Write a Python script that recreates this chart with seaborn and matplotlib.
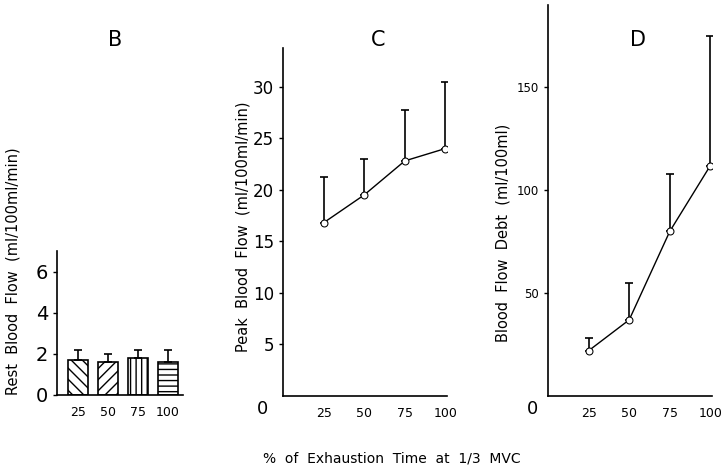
import matplotlib
matplotlib.use("Agg")
import matplotlib.pyplot as plt
import numpy as np
import pandas as pd
import seaborn as sns

# data
pct = [25, 50, 75, 100]
pct_labels = ["25", "50", "75", "100"]
rest_flow = [1.7, 1.6, 1.8, 1.6]
rest_top = [2.2, 2.0, 2.2, 2.2]
peak_flow = [16.8, 19.5, 22.8, 24.0]
peak_top = [21.2, 23.0, 27.7, 30.5]
debt = [22, 37, 80, 112]
debt_top = [28, 55, 108, 175]

sns.set_style("ticks")
plt.rcParams['font.family'] = ['DejaVu Sans']
plt.rcParams['hatch.linewidth'] = 1.0
plt.rcParams['hatch.color'] = 'black'
for k in ('text.color', 'xtick.color', 'ytick.color', 'axes.labelcolor'):
    plt.rcParams[k] = 'black'

fig = plt.figure(figsize=(7.23, 4.71), dpi=100)
W, H = 723, 471

def px_axes(left, top, right, bottom):
    return fig.add_axes([left / W, 1 - bottom / H, (right - left) / W, (bottom - top) / H])

# ---- B : resting blood flow (bars)
axB = px_axes(57, 251, 183, 395)
df_b = pd.DataFrame({'pct': pct_labels, 'flow': rest_flow})
sns.barplot(data=df_b, x='pct', y='flow', ax=axB, color='white', edgecolor='black',
            linewidth=1.2, width=0.67, errorbar=None)
for p, h in zip(axB.patches, ['\\\\\\', '///', '|||', '---']):
    p.set_hatch(h)
    p.set_facecolor('white')
up = np.array(rest_top) - np.array(rest_flow)
axB.errorbar(range(4), rest_flow, yerr=[np.zeros(4), up], fmt='none', ecolor='black',
             elinewidth=1.2, capsize=3, capthick=1.2)
axB.set_xlim(-0.7, 3.5)
axB.set_ylim(0, 7)
axB.set_yticks([0, 2, 4, 6])
axB.tick_params(axis='y', labelsize=14, length=3, width=1)
axB.tick_params(axis='x', labelsize=9, length=0, pad=8)
axB.set_xlabel('')
axB.set_ylabel('')

# ---- C : peak blood flow
axC = px_axes(283, 48, 447, 396)
sns.lineplot(x=pct, y=peak_flow, ax=axC, color='black', linewidth=1, marker='o',
             markersize=5, markerfacecolor='white', markeredgecolor='black', zorder=3)
up = np.array(peak_top) - np.array(peak_flow)
axC.errorbar(pct, peak_flow, yerr=[np.zeros(4), up], fmt='none', ecolor='black',
             elinewidth=1.2, capsize=3, capthick=1.2, zorder=2)
axC.set_xlim(0, 101)
axC.set_ylim(0, 33.75)
axC.set_yticks([5, 10, 15, 20, 25, 30])
axC.set_xticks(pct)
axC.tick_params(axis='y', labelsize=12, length=3, width=1)
axC.tick_params(axis='x', labelsize=9, length=0, pad=8)

# ---- D : blood flow debt
axD = px_axes(548, 5, 712, 396)
sns.lineplot(x=pct, y=debt, ax=axD, color='black', linewidth=1, marker='o',
             markersize=5, markerfacecolor='white', markeredgecolor='black', zorder=3)
up = np.array(debt_top) - np.array(debt)
axD.errorbar(pct, debt, yerr=[np.zeros(4), up], fmt='none', ecolor='black',
             elinewidth=1.2, capsize=3, capthick=1.2, zorder=2)
axD.set_xlim(0, 101)
axD.set_ylim(0, 190)
axD.set_yticks([50, 100, 150])
axD.set_xticks(pct)
axD.tick_params(axis='y', labelsize=8.5, length=3, width=1)
axD.tick_params(axis='x', labelsize=9, length=0, pad=8)

for ax in (axB, axC, axD):
    sns.despine(ax=ax)
    for s in ('left', 'bottom'):
        ax.spines[s].set_linewidth(1.2)
        ax.spines[s].set_color('black')

# titles and labels placed in pixel coordinates
def ftxt(x, y, s, **kw):
    fig.text(x / W, 1 - y / H, s, **kw)

ftxt(115, 40, 'B', fontsize=15, ha='center', va='center')
ftxt(378, 40, 'C', fontsize=15, ha='center', va='center')
ftxt(638, 40, 'D', fontsize=15, ha='center', va='center')
ftxt(262, 409, '0', fontsize=13, ha='center', va='center')
ftxt(532, 409, '0', fontsize=13, ha='center', va='center')

ftxt(13, 395, 'Rest  Blood  Flow  (ml/100ml/min)', fontsize=10.5, rotation=90, ha='center', va='bottom')
ftxt(243, 352, 'Peak  Blood  Flow  (ml/100ml/min)', fontsize=10.5, rotation=90, ha='center', va='bottom')
ftxt(503, 342, 'Blood  Flow  Debt  (ml/100ml)', fontsize=10.5, rotation=90, ha='center', va='bottom')

ftxt(392, 458, '%  of  Exhaustion  Time  at  1/3  MVC', fontsize=10, ha='center', va='center')

fig.savefig('out.png', dpi=100)
